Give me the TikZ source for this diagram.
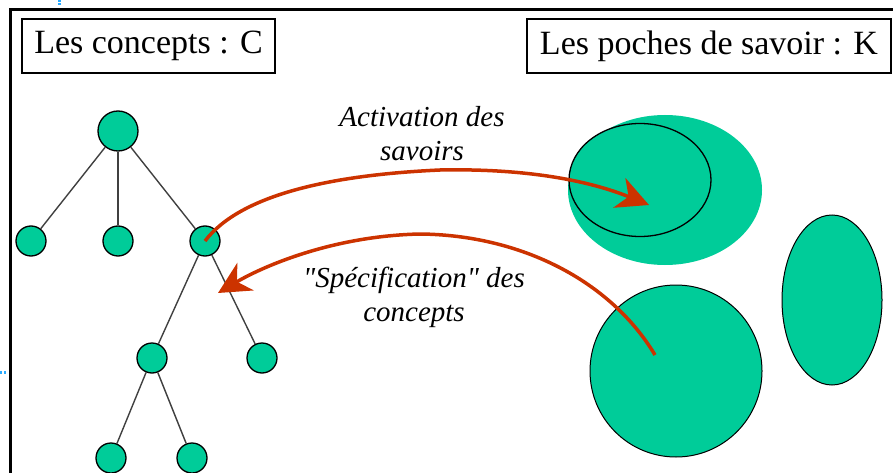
\documentclass[tikz,border=0pt]{standalone}
\usepackage{fontspec}
\setmainfont{Liberation Serif}[Ligatures=TeXOff]
\usetikzlibrary{arrows.meta,shapes.geometric}
\definecolor{pocket}{RGB}{0,204,153}
\definecolor{link}{RGB}{204,51,0}
\definecolor{guide}{RGB}{40,170,255}
\begin{document}
\begin{tikzpicture}[x=1pt,y=-1pt,
  concept/.style={circle,draw=black,line width=1.3pt,fill=pocket,minimum size=30pt,inner sep=0pt},
  branch/.style={draw=black!75,line width=1.4pt},
  titlebox/.style={draw,line width=1.3pt,font=\fontsize{34}{40}\selectfont,minimum height=54pt,inner sep=0pt},
  pocketshape/.style={ellipse,fill=pocket,inner sep=0pt},
  flow/.style={draw=link,line width=3.5pt,-{Stealth[length=32pt,width=32pt,inset=10pt]}},
  caption/.style={font=\fontsize{29}{34}\selectfont\itshape,align=center}]
\useasboundingbox (0,0) rectangle (893,473);
\clip (0,0) rectangle (893,473);

% small guide marks
\fill[guide] (57.5,0) rectangle (60.5,2);
\fill[guide] (57.5,3.5) rectangle (60.5,5.5);
\fill[guide] (0,370.5) rectangle (2,373.5);
\fill[guide] (3.5,370.5) rectangle (5.5,373.5);

% outer frame (open towards the right and bottom)
\draw[line width=3pt] (10.5,490) -- (10.5,9.5) -- (910,9.5);

% titles
\node[titlebox,minimum width=253pt] (tc) at (148.5,46) {Les concepts : C};
\node[titlebox,minimum width=364pt] (tk) at (709,46) {Les poches de savoir : K};

% concept tree
\node[concept,minimum size=40pt] (r) at (118,131) {};
\node[concept] (a) at (31,241) {};
\node[concept] (b) at (118,241) {};
\node[concept] (c) at (205,241) {};
\node[concept] (d) at (152,358) {};
\node[concept] (e) at (262,358) {};
\node[concept] (f) at (111,458) {};
\node[concept] (g) at (192,458) {};
\draw[branch] (r) -- (a);
\draw[branch] (r) -- (b);
\draw[branch] (r) -- (c);
\draw[branch] (c) -- (d);
\draw[branch] (c) -- (e);
\draw[branch] (d) -- (f);
\draw[branch] (d) -- (g);

% knowledge pockets
\node[pocketshape,minimum width=194pt,minimum height=150pt] (k1) at (665,190) {};
\node[pocketshape,draw=black,line width=1.3pt,minimum width=142pt,minimum height=113pt] (k1in) at (640,180) {};
\node[pocketshape,draw=black,line width=1pt,minimum width=100pt,minimum height=170pt] (k2) at (832,300) {};
\node[pocketshape,circle,draw=black,line width=1pt,minimum size=172pt] (k3) at (676,371) {};

% exchanges between concepts and knowledge
\coordinate (act) at (649,205);
\coordinate (spec) at (655,355);
\coordinate (spectip) at (218,293);
\draw[flow] (c.center) .. controls (240,195) and (330,175) .. (440,170)
  .. controls (540,168) and (600,185) .. (act);
\draw[flow] (spec) .. controls (610,280) and (520,235) .. (420,234)
  .. controls (330,236) and (260,268) .. (spectip);

\node[caption] (lact) at (422,134) {Activation des\\savoirs};
\node[caption] (lspec) at (414,297) {"Spécification" des\\concepts};
\end{tikzpicture}
\end{document}
